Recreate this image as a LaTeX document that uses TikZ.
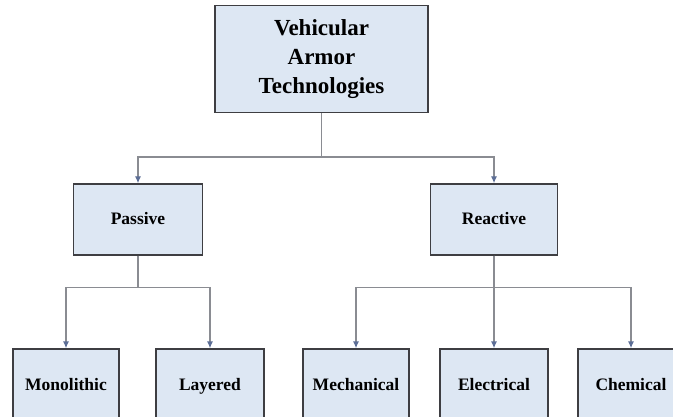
\documentclass[tikz,border=0pt]{standalone}
\usepackage{fontspec}
\setmainfont{Liberation Serif}
\usetikzlibrary{arrows.meta,positioning}
\definecolor{BoxBlue}{RGB}{221,231,243}
\definecolor{BoxEdge}{RGB}{62,62,66}
\definecolor{LinkGray}{RGB}{138,140,146}
\definecolor{TipBlue}{RGB}{92,110,150}

\begin{document}
\begin{tikzpicture}[x=1pt,y=-1pt,
    >={Latex[length=7pt,width=6pt,color=TipBlue]},
    box/.style={draw=BoxEdge,line width=1.3pt,fill=BoxBlue,inner sep=0pt,
      align=center},
    leaf/.style={box,minimum height=71,text height=13.5pt,text depth=2.5pt,
      font=\bfseries\fontsize{17.5}{20}\selectfont},
    link/.style={draw=LinkGray,line width=1.3pt}]
      \clip (0,0) rectangle (673,417);
      \fill[white] (0,0) rectangle (673,417);
      % top level
      \node[box,minimum width=213,minimum height=107,
        font=\bfseries\fontsize{23}{29}\selectfont] (armor) at (321.5,59)
        {Vehicular\\Armor\\Technologies};
      % second level
      \node[leaf,minimum width=129] (passive) at (138,219.5) {Passive};
      \node[leaf,minimum width=127] (reactive) at (494,219.5) {Reactive};
      % third level
      \node[leaf,minimum width=106] (mono) at (66,384.5) {Monolithic};
      \node[leaf,minimum width=108] (layer) at (210,384.5) {Layered};
      \node[leaf,minimum width=106] (mech) at (356,384.5) {Mechanical};
      \node[leaf,minimum width=108] (elec) at (494,384.5) {Electrical};
      \node[leaf,minimum width=106] (chem) at (631,384.5) {Chemical};
      % connectors
      \draw[link,->] (armor.south) -- ++(0,44) -| (passive.north);
      \draw[link,->] (armor.south) -- ++(0,44) -| (reactive.north);
      \draw[link,->] (passive.south) -- ++(0,32) -| (mono.north);
      \draw[link,->] (passive.south) -- ++(0,32) -| (layer.north);
      \draw[link,->] (reactive.south) -- ++(0,32) -| (mech.north);
      \draw[link,->] (reactive.south) -- (elec.north);
      \draw[link,->] (reactive.south) -- ++(0,32) -| (chem.north);
    \end{tikzpicture}
\end{document}
